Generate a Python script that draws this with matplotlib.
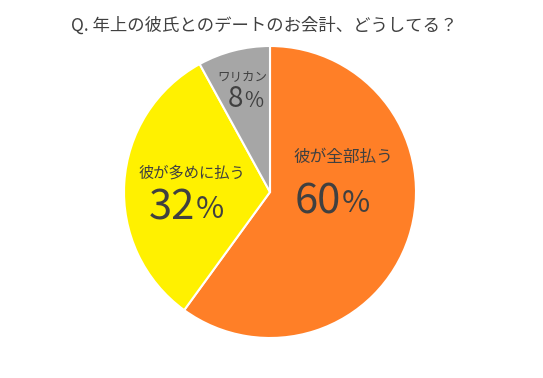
import matplotlib.pyplot as plt

plt.rcParams['font.family'] = ['Noto Sans CJK JP', 'DejaVu Sans']

# data
title = "Q. 年上の彼氏とのデートのお会計、どうしてる？"
labels = ["彼が全部払う", "彼が多めに払う", "ワリカン"]
values = [60, 32, 8]
colors = ["#FF7F27", "#FFF100", "#A6A6A6"]

W, H = 543, 378
fig = plt.figure(figsize=(W / 100, H / 100), dpi=100)
fig.patch.set_facecolor("white")

# pie centre ~ (270,192) px, radius ~146 px
cx, cy, r = 270, 192, 146
ax = fig.add_axes([(cx - r) / W, (H - cy - r) / H, 2 * r / W, 2 * r / H])
ax.pie(values, colors=colors, startangle=90, counterclock=False,
       wedgeprops=dict(edgecolor="white", linewidth=1.5))
ax.set_xlim(-1, 1)
ax.set_ylim(-1, 1)
ax.set_aspect("equal")
ax.axis("off")

txt = "#404040"


def px(x, y):
    return x / W, 1 - y / H


# label position (centre), split x between number and %, number y, sizes
spots = [
    dict(lab=(343, 157), split=341, ny=202, lsize=12, nsize=30, psize=22),
    dict(lab=(192, 173), split=195, ny=208, lsize=11, nsize=30, psize=22),
    dict(lab=(242, 77), split=243, ny=99, lsize=9, nsize=20, psize=15),
]

for lab, v, s in zip(labels, values, spots):
    fig.text(*px(*s["lab"]), lab, ha="center", va="center",
             fontsize=s["lsize"], color=txt)
    fig.text(*px(s["split"], s["ny"]), str(v), ha="right", va="center",
             fontsize=s["nsize"], color=txt)
    fig.text(*px(s["split"] + 1, s["ny"] + 2), "%", ha="left", va="center",
             fontsize=s["psize"], color=txt)

fig.text(*px(264, 26), title, ha="center", va="center", fontsize=12.5, color=txt)

fig.savefig("out.png", dpi=100)
